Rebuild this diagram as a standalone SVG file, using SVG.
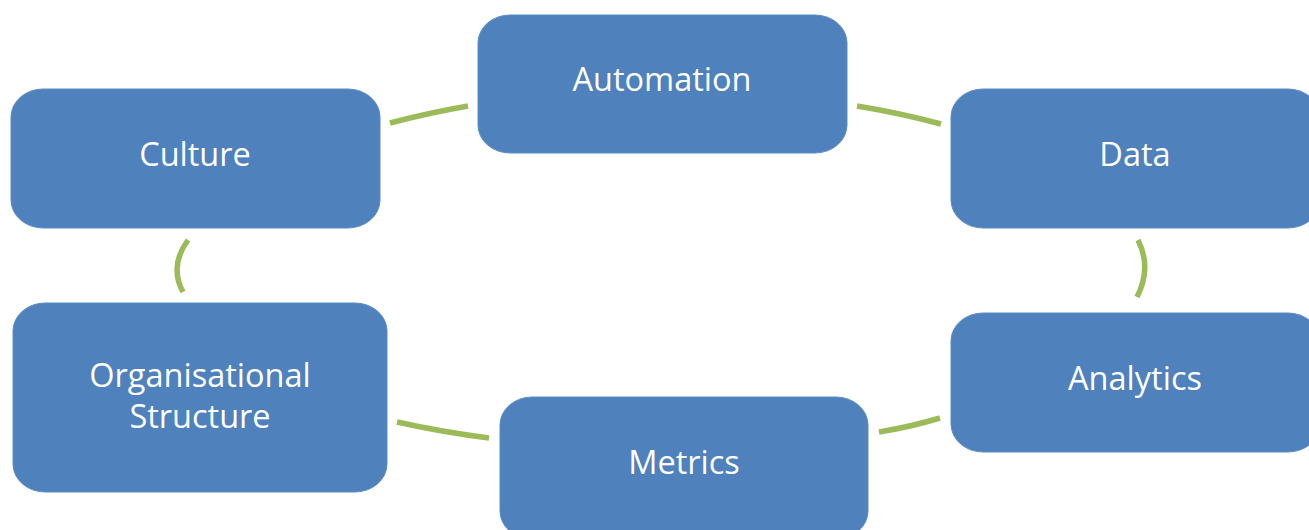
<svg xmlns="http://www.w3.org/2000/svg" width="1309" height="530" viewBox="0 0 1309 530">
  <style>
    .box { fill: #4F81BD; stroke: #5B8CC6; stroke-width: 1; }
    .label { font-family: "Open Sans", "Noto Sans", "Liberation Sans", sans-serif; font-size: 32.5px; fill: #FFFFFF; text-anchor: middle; }
    .link { fill: none; stroke: #9BBB59; stroke-width: 5.5; }
  </style>
  <rect width="1309" height="530" fill="#FFFFFF"/>

  <!-- connecting arcs of the cycle -->
  <g id="connectors">
    <path class="link" d="M390,123 Q428,113 468,106"/>
    <path class="link" d="M857,106 Q900,113 941,124"/>
    <path class="link" d="M1138,240 Q1152,268 1137,297"/>
    <path class="link" d="M940,418 Q910,427 879,432"/>
    <path class="link" d="M489,438 Q442,432 397,422"/>
    <path class="link" d="M183,292 Q169,266 188,240"/>
  </g>

  <g id="culture">
    <rect class="box" x="11" y="89" width="369" height="139" rx="32" ry="28"/>
    <text class="label" x="195" y="166">Culture</text>
  </g>

  <g id="automation">
    <rect class="box" x="478" y="15" width="369" height="138" rx="32" ry="28"/>
    <text class="label" x="662" y="91">Automation</text>
  </g>

  <g id="data">
    <rect class="box" x="951" y="89" width="369" height="139" rx="32" ry="28"/>
    <text class="label" x="1135" y="166">Data</text>
  </g>

  <g id="analytics">
    <rect class="box" x="951" y="313" width="369" height="139" rx="32" ry="28"/>
    <text class="label" x="1135" y="390">Analytics</text>
  </g>

  <g id="metrics">
    <rect class="box" x="500" y="397" width="368" height="142" rx="32" ry="28"/>
    <text class="label" x="684" y="474">Metrics</text>
  </g>

  <g id="organisational-structure">
    <rect class="box" x="13" y="303" width="374" height="189" rx="32" ry="28"/>
    <text class="label" x="200" y="387">Organisational</text>
    <text class="label" x="200" y="428">Structure</text>
  </g>
</svg>
